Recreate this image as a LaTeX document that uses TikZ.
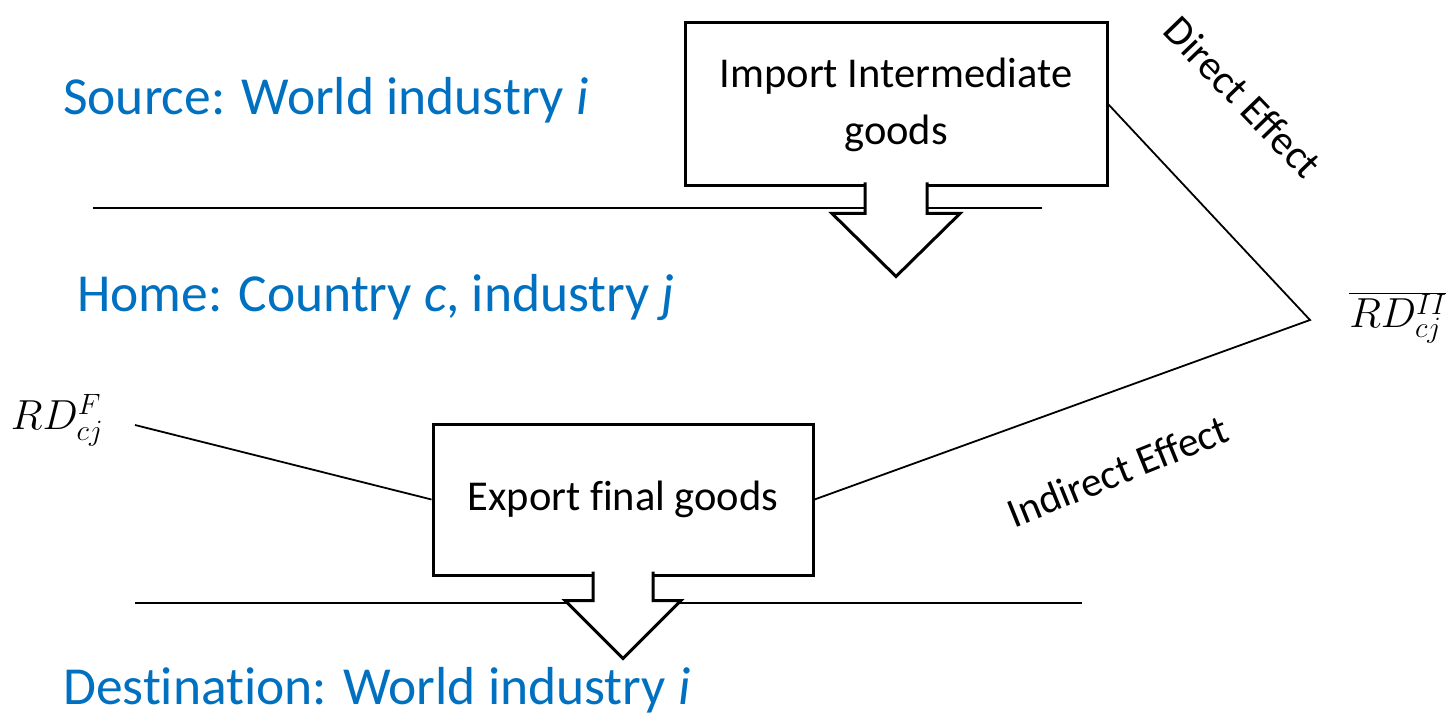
\RequirePackage{fix-cm}
\documentclass[tikz,border=0pt]{standalone}
\usepackage{xcolor}
\usepackage{fontspec}
\setmainfont{Carlito}[Ligatures=NoCommon]
\usepackage{tikz}
\usetikzlibrary{calc}
\definecolor{layerblue}{RGB}{0,112,192}
\tikzstyle{layer} = [text=layerblue, anchor=west, inner sep=0pt, font=\fontsize{53.5}{64}\selectfont]
\tikzstyle{process} = [rectangle, draw=black, line width=3pt, fill=white, text centered, align=center, font=\fontsize{42.5}{57}\selectfont]
\tikzstyle{effect} = [inner sep=0pt, font=\fontsize{41.5}{50}\selectfont]
\tikzstyle{rdlabel} = [inner sep=0pt, font=\fontsize{42}{50}\selectfont]
\tikzstyle{link} = [line width=1.8pt]
\tikzstyle{border} = [line width=2pt]
\tikzstyle{blockarrow} = [draw=black, fill=white, line width=3pt, line join=miter]

\begin{document}
\begin{tikzpicture}[x=1pt,y=-1pt]
\useasboundingbox (0,0) rectangle (1446,714);

% the three levels
\node[layer] (src) at (63,100) {Source: World industry \textit{i}};
\node[layer] (home) at (77,298) {Home: Country \textit{c}, industry \textit{j}};
\node[layer] (dest) at (63,690) {Destination: World industry \textit{i}};

\coordinate (topl) at (93,208);
\coordinate (topr) at (1042,208);
\coordinate (botl) at (135,603);
\coordinate (botr) at (1082,603);
\draw[border] (topl) -- (topr);
\draw[border] (botl) -- (botr);

\node (imp) [process, minimum width=422pt, minimum height=163pt] at (896,104.5) {Import Intermediate\\goods};
\node (exp) [process, minimum width=380pt, minimum height=151pt] at (623,499.5) {Export final goods};

% block arrows under the boxes
\filldraw[blockarrow] ($(imp.south)+(-31,-5)$) -- ($(imp.south)+(-31,26)$) -- ($(imp.south)+(-64,26)$)
  -- ($(imp.south)+(0,89)$) -- ($(imp.south)+(64,26)$) -- ($(imp.south)+(31,26)$) -- ($(imp.south)+(31,-5)$);
\filldraw[blockarrow] ($(exp.south)+(-30,-5)$) -- ($(exp.south)+(-30,24)$) -- ($(exp.south)+(-58,24)$)
  -- ($(exp.south)+(0,82)$) -- ($(exp.south)+(58,24)$) -- ($(exp.south)+(30,24)$) -- ($(exp.south)+(30,-5)$);

% R&D labels and effects
\node[rdlabel] (rdf) at (57,420) {$RD^{F}_{cj}$};
\node[rdlabel] (rdii) at (1398,318) {$\overline{RD^{II}_{cj}}$};
\coordinate (apex) at (1310,320);
\coordinate (rdfend) at (135,425);

\draw[link] (imp.east) -- (apex) -- (exp.east);
\draw[link] (rdfend) -- (exp.west);

\node[effect, rotate=-46] (direct) at (1243,97) {Direct Effect};
\node[effect, rotate=22] (indirect) at (1118,471) {Indirect Effect};

\end{tikzpicture}
\end{document}
